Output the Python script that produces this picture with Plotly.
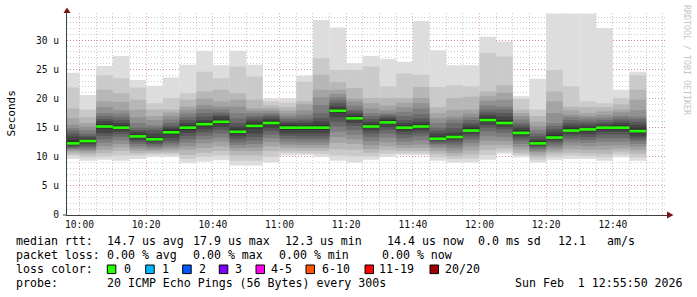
import plotly.graph_objects as go
import pandas as pd

DAY = "2026-02-01 "

# end time of each 5-minute step
end_times = ["10:00", "10:05", "10:10", "10:15", "10:20", "10:25", "10:30", "10:35",
             "10:40", "10:45", "10:50", "10:55", "11:00", "11:05", "11:10", "11:15",
             "11:20", "11:25", "11:30", "11:35", "11:40", "11:45", "11:50", "11:55",
             "12:00", "12:05", "12:10", "12:15", "12:20", "12:25", "12:30", "12:35",
             "12:40", "12:45", "12:50"]

# sorted ping round-trip times (microseconds), 20 pings per step
rtt_1000 = [9.6, 10.2, 10.5, 10.9, 11.1, 11.3, 11.5, 11.7, 11.9, 12.1, 12.9, 13.5, 14.0, 14.5, 14.9, 15.5, 16.6, 18.3, 21.9, 24.45]
rtt_1005 = [9.3, 9.9, 10.3, 10.7, 11.0, 11.3, 11.6, 11.9, 12.2, 12.5, 13.0, 13.3, 13.6, 14.0, 14.6, 15.2, 15.8, 16.8, 18.1, 20.6]
rtt_1010 = [9.5, 10.0, 10.6, 11.2, 11.8, 12.4, 13.0, 13.6, 14.1, 14.8, 15.6, 16.1, 16.5, 17.0, 17.5, 18.5, 19.5, 21.5, 24.0, 25.6]
rtt_1015 = [9.3, 10.2, 11.0, 11.6, 12.2, 12.8, 13.4, 13.9, 14.3, 14.7, 15.4, 15.8, 16.3, 16.8, 17.4, 18.0, 19.4, 20.9, 23.5, 27.3]
rtt_1020 = [9.6, 10.2, 10.6, 11.0, 11.4, 11.8, 12.2, 12.6, 12.9, 13.2, 13.9, 14.3, 14.6, 15.0, 15.8, 16.8, 18.1, 19.8, 21.9, 23.2]
rtt_1025 = [10.0, 10.4, 10.7, 11.0, 11.3, 11.6, 11.9, 12.2, 12.5, 12.8, 13.4, 14.0, 14.6, 15.0, 15.4, 16.3, 17.0, 18.1, 19.2, 22.2]
rtt_1030 = [10.0, 10.4, 10.7, 11.1, 11.5, 11.9, 12.3, 12.7, 13.2, 13.8, 14.7, 15.0, 15.3, 15.8, 16.4, 17.0, 17.6, 18.1, 20.1, 23.6]
rtt_1035 = [8.9, 9.6, 10.3, 11.2, 11.8, 12.4, 13.0, 13.6, 14.1, 14.6, 15.4, 15.8, 16.3, 16.8, 17.4, 18.0, 18.6, 19.8, 20.9, 25.8]
rtt_1040 = [9.2, 10.0, 10.7, 11.5, 12.3, 13.0, 13.6, 14.2, 14.7, 15.2, 16.0, 16.3, 16.9, 17.5, 18.2, 18.9, 20.0, 21.2, 24.6, 28.2]
rtt_1045 = [9.4, 10.2, 11.0, 11.8, 12.6, 13.3, 14.0, 14.6, 15.1, 15.6, 16.4, 16.9, 17.2, 17.6, 18.1, 18.6, 19.5, 21.5, 23.5, 25.7]
rtt_1050 = [8.5, 9.3, 10.2, 11.0, 11.5, 12.0, 12.5, 13.0, 13.5, 14.0, 14.8, 15.2, 15.8, 16.6, 17.5, 18.6, 19.8, 20.9, 25.5, 28.2]
rtt_1055 = [8.5, 9.3, 10.2, 11.0, 11.6, 12.2, 12.8, 13.4, 14.0, 14.8, 15.8, 16.2, 16.6, 17.0, 17.5, 17.9, 18.3, 19.8, 23.8, 25.8]
rtt_1100 = [9.0, 10.0, 11.0, 11.8, 12.5, 13.2, 13.8, 14.4, 14.9, 15.4, 16.2, 16.5, 16.9, 17.2, 17.5, 17.9, 18.3, 18.8, 19.5, 20.0]
rtt_1105 = [10.2, 10.7, 11.1, 11.6, 12.1, 12.6, 13.1, 13.6, 14.0, 14.6, 15.5, 15.8, 16.1, 16.5, 16.9, 17.4, 17.9, 18.5, 19.3, 20.0]
rtt_1110 = [10.3, 10.6, 11.0, 11.5, 12.0, 12.5, 13.0, 13.5, 14.0, 14.6, 15.4, 15.8, 16.2, 16.6, 17.2, 18.0, 19.0, 19.5, 22.9, 23.9]
rtt_1115 = [10.0, 10.5, 11.0, 11.5, 12.0, 12.5, 13.0, 13.5, 14.0, 14.6, 15.5, 16.1, 16.7, 17.5, 18.9, 20.2, 21.5, 24.1, 26.9, 33.5]
rtt_1120 = [9.3, 10.2, 11.3, 12.4, 13.4, 14.3, 15.2, 16.0, 16.8, 17.5, 18.3, 18.7, 19.2, 19.7, 20.2, 20.8, 21.5, 22.8, 24.9, 32.2]
rtt_1125 = [9.0, 10.1, 11.2, 12.2, 13.0, 13.8, 14.6, 15.3, 15.8, 16.3, 17.0, 17.4, 17.8, 18.1, 18.8, 19.5, 20.0, 21.8, 24.9, 26.05]
rtt_1130 = [9.5, 10.1, 10.7, 11.3, 12.0, 12.7, 13.4, 14.0, 14.5, 14.9, 15.6, 16.0, 16.5, 17.0, 17.5, 18.3, 19.2, 20.1, 25.5, 27.3]
rtt_1135 = [10.0, 10.5, 11.1, 11.8, 12.5, 13.3, 14.0, 14.6, 15.1, 15.6, 16.3, 16.6, 16.9, 17.2, 17.5, 18.0, 18.8, 20.1, 22.1, 26.8]
rtt_1140 = [10.3, 10.6, 11.0, 11.5, 12.0, 12.6, 13.2, 13.8, 14.3, 14.7, 15.4, 15.8, 16.3, 17.0, 17.7, 18.5, 19.3, 20.1, 24.3, 26.3]
rtt_1145 = [10.3, 10.6, 11.0, 11.5, 12.1, 12.8, 13.5, 14.0, 14.5, 14.9, 15.6, 16.0, 16.6, 17.3, 18.3, 19.2, 20.1, 22.0, 24.1, 33.3]
rtt_1150 = [9.3, 9.9, 10.5, 11.0, 11.5, 11.9, 12.2, 12.5, 12.8, 13.0, 13.5, 14.0, 14.5, 15.0, 15.8, 16.6, 17.5, 18.5, 22.0, 28.3]
rtt_1155 = [9.0, 9.6, 10.1, 10.6, 11.1, 11.6, 12.1, 12.5, 12.9, 13.2, 13.8, 14.2, 14.9, 15.8, 16.4, 16.9, 18.0, 20.1, 22.3, 25.7]
rtt_1200 = [9.0, 9.7, 10.4, 11.1, 11.8, 12.4, 13.0, 13.5, 13.9, 14.3, 15.0, 15.4, 15.8, 16.3, 16.8, 17.4, 18.1, 20.3, 22.1, 25.7]
rtt_1205 = [9.5, 10.3, 11.2, 12.0, 12.8, 13.6, 14.4, 15.0, 15.5, 16.0, 16.8, 17.2, 17.6, 18.1, 18.8, 19.6, 20.4, 21.2, 27.8, 30.6]
rtt_1210 = [10.5, 10.9, 11.4, 12.0, 12.7, 13.4, 14.1, 14.7, 15.1, 15.5, 16.3, 16.9, 17.5, 18.1, 18.6, 19.8, 21.0, 22.3, 27.2, 29.8]
rtt_1215 = [9.9, 10.3, 10.7, 11.2, 11.7, 12.2, 12.7, 13.1, 13.5, 13.8, 14.6, 15.0, 15.4, 15.8, 16.4, 17.0, 17.5, 18.1, 19.9, 20.4]
rtt_1220 = [9.0, 9.5, 10.0, 10.4, 10.8, 11.1, 11.4, 11.7, 11.9, 12.1, 12.7, 13.0, 13.5, 14.0, 14.6, 15.2, 16.0, 17.0, 18.1, 23.4]
rtt_1225 = [9.5, 10.0, 10.5, 10.9, 11.3, 11.7, 12.1, 12.5, 12.8, 13.1, 13.8, 14.3, 14.8, 15.3, 15.8, 17.5, 19.5, 21.2, 24.9, 34.6]
rtt_1230 = [9.6, 10.2, 10.7, 11.3, 11.9, 12.5, 13.0, 13.5, 13.9, 14.3, 15.0, 15.4, 15.8, 16.3, 16.8, 17.2, 18.0, 18.6, 22.1, 34.6]
rtt_1235 = [9.6, 10.1, 10.6, 11.2, 11.8, 12.4, 12.9, 13.4, 13.9, 14.4, 15.0, 15.4, 15.8, 16.2, 16.6, 17.0, 17.5, 18.5, 19.5, 34.6]
rtt_1240 = [9.3, 9.9, 10.5, 11.2, 11.9, 12.6, 13.2, 13.8, 14.3, 14.7, 15.3, 15.6, 15.9, 16.3, 16.7, 17.2, 17.8, 18.5, 19.2, 32.1]
rtt_1245 = [9.9, 10.4, 10.9, 11.4, 12.0, 12.6, 13.2, 13.8, 14.3, 14.7, 15.4, 15.8, 16.2, 16.6, 17.0, 17.6, 18.1, 19.0, 20.1, 21.5]
rtt_1250 = [9.3, 9.9, 10.5, 11.1, 11.7, 12.2, 12.7, 13.1, 13.5, 14.0, 15.0, 15.5, 16.0, 16.5, 16.9, 18.0, 19.8, 21.5, 24.0, 24.6]

# median rtt per step (microseconds), all with 0 packet loss
median_rtt = [12.3, 12.7, 15.2, 15.0, 13.5, 13.0, 14.2, 15.0, 15.6, 16.0, 14.3, 15.3,
              15.8, 15.0, 15.0, 15.0, 17.9, 16.6, 15.2, 15.9, 15.0, 15.2, 13.1, 13.4,
              14.5, 16.3, 15.8, 14.1, 12.3, 13.3, 14.5, 14.7, 15.0, 15.0, 14.4]

y_tick_vals = [0, 5, 10, 15, 20, 25, 30]
y_tick_text = ["0", "5 u", "10 u", "15 u", "20 u", "25 u", "30 u"]

loss_labels = ["0", "1", "2", "3", "4-5", "6-10", "11-19", "20/20"]
loss_colors = ["#26ff00", "#00b8ff", "#0059ff", "#7e00ff", "#ff00ea", "#ff5500", "#ff0000", "#a10000"]

all_rtt = [rtt_1000, rtt_1005, rtt_1010, rtt_1015, rtt_1020, rtt_1025, rtt_1030, rtt_1035,
           rtt_1040, rtt_1045, rtt_1050, rtt_1055, rtt_1100, rtt_1105, rtt_1110, rtt_1115,
           rtt_1120, rtt_1125, rtt_1130, rtt_1135, rtt_1140, rtt_1145, rtt_1150, rtt_1155,
           rtt_1200, rtt_1205, rtt_1210, rtt_1215, rtt_1220, rtt_1225, rtt_1230, rtt_1235,
           rtt_1240, rtt_1245, rtt_1250]

STEP_MS = 300000
ends = pd.to_datetime([DAY + t for t in end_times])
centers = ends - pd.Timedelta(seconds=150)

fig = go.Figure()

smoke_colors = ["#dddddd", "#cacaca", "#b7b7b7", "#a4a4a4", "#919191",
                "#7e7e7e", "#6b6b6b", "#585858", "#454545", "#323232"]
for k, col in enumerate(smoke_colors):
    lows = [r[k] for r in all_rtt]
    highs = [r[19 - k] for r in all_rtt]
    fig.add_trace(go.Bar(
        x=centers, base=lows, y=[h - l for h, l in zip(highs, lows)],
        width=STEP_MS, marker=dict(color=col, line=dict(width=0)),
        hoverinfo="skip", showlegend=False))

band = 0.45
fig.add_trace(go.Bar(
    x=centers, base=[m - band / 2 for m in median_rtt], y=[band] * len(median_rtt),
    width=STEP_MS, marker=dict(color=loss_colors[0], line=dict(width=0)),
    hoverinfo="skip", showlegend=False))

# ---- layout geometry (pixels) ----
W, H = 697, 297
L, R, T, B = 67, 30, 13, 82
PW, PH = W - L - R, H - T - B


def px(x):
    return (x - L) / PW


def py(y):
    return (H - B - y) / PH


MONO = "DejaVu Sans Mono"
major_grid = "rgba(220,70,70,0.45)"
minor_grid = "rgba(150,150,150,0.5)"
dots = "1px,2px"

fig.update_layout(
    width=W, height=H, margin=dict(l=L, r=R, t=T, b=B, pad=0),
    paper_bgcolor="white", plot_bgcolor="white",
    barmode="overlay", showlegend=False,
    font=dict(family=MONO, size=10, color="#000000"),
    xaxis=dict(
        type="date",
        range=[DAY + "09:56:15", DAY + "12:56:15"],
        tick0=DAY + "10:00", dtick=1200000, tickformat="%H:%M",
        showgrid=True, gridcolor=major_grid, griddash=dots, gridwidth=1,
        minor=dict(tick0=DAY + "10:00", dtick=STEP_MS, showgrid=True,
                   gridcolor=minor_grid, griddash=dots, gridwidth=1),
        showline=True, linecolor="#404040", linewidth=1,
        ticks="", zeroline=False, layer="above traces",
        tickfont=dict(family=MONO, size=9.6, color="#111111"),
        fixedrange=True,
    ),
    yaxis=dict(
        range=[0, 34.69],
        tickvals=y_tick_vals, ticktext=y_tick_text,
        showgrid=True, gridcolor=major_grid, griddash=dots, gridwidth=1,
        minor=dict(dtick=1, showgrid=True, gridcolor=minor_grid,
                   griddash=dots, gridwidth=1),
        showline=True, linecolor="#404040", linewidth=1,
        ticks="", zeroline=False, layer="above traces",
        ticklabelstandoff=5,
        tickfont=dict(family=MONO, size=9.6, color="#111111"),
        fixedrange=True,
    ),
)

shapes = []
# axis arrows
shapes.append(dict(type="path", xref="paper", yref="paper",
                   path=f"M {px(63.5)} {py(13)} L {px(70.5)} {py(13)} L {px(67)} {py(7.5)} Z",
                   fillcolor="#7a1010", line=dict(width=0)))
shapes.append(dict(type="path", xref="paper", yref="paper",
                   path=f"M {px(667)} {py(211.5)} L {px(667)} {py(218.5)} L {px(673.5)} {py(215)} Z",
                   fillcolor="#7a1010", line=dict(width=0)))
shapes.append(dict(type="line", xref="paper", yref="paper",
                   x0=px(63), x1=px(67), y0=py(215), y1=py(215),
                   line=dict(color="#404040", width=1)))

ann = []


def text(s, x, y, anchor="left", size=11.6, color="#000000", angle=0, fam=MONO):
    ann.append(dict(text=s, x=px(x), y=py(y), xref="paper", yref="paper",
                    xanchor=anchor, yanchor="middle", showarrow=False,
                    borderpad=0, borderwidth=0, textangle=angle,
                    font=dict(family=fam, size=size, color=color)))


# axis title and watermark
text("Seconds", 10.5, 114, anchor="center", size=11, angle=-90)
text("RRDTOOL / TOBI OETIKER", 687, 60, anchor="center", size=8.3, color="#c4c4c4", angle=90)

# legend lines
y1, y2, y3, y4 = 240.8, 255.3, 269.3, 283.3
text("median rtt:", 16, y1)
text("14.7 us avg", 107.3, y1)
text("17.9 us max", 193.3, y1)
text("12.3 us min", 285, y1)
text("14.4 us now", 386.7, y1)
text("0.0 ms sd", 478.3, y1)
text("12.1", 558.3, y1)
text("am/s", 606.7, y1)

text("packet loss:", 16, y2)
text("0.00 % avg", 107.3, y2)
text("0.00 % max", 193.3, y2)
text("0.00 % min", 279.3, y2)
text("0.00 % now", 381.7, y2)

text("loss color:", 16, y3)
sq_left = [107.3, 145.7, 182.7, 219.3, 256, 306, 365, 430]
lbl_left = [124, 161.7, 199.3, 235, 270.5, 321.7, 379.3, 445]
for lab, col, sx, lx in zip(loss_labels, loss_colors, sq_left, lbl_left):
    shapes.append(dict(type="rect", xref="paper", yref="paper",
                       x0=px(sx), x1=px(sx + 8.5), y0=py(y3 + 4.3), y1=py(y3 - 4.3),
                       fillcolor=col, line=dict(color="#000000", width=1)))
    text(lab, lx, y3)

text("probe:", 16, y4)
text("20 ICMP Echo Pings (56 Bytes) every 300s", 107.3, y4)
text("Sun Feb\u00a0\u00a01 12:55:50 2026", 682.7, y4, anchor="right")

fig.update_layout(shapes=shapes, annotations=ann)

fig.write_html("out.html")
